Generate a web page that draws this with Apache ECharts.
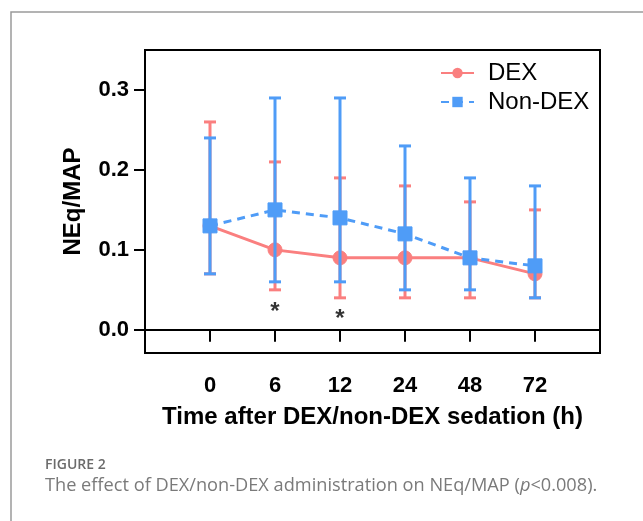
<!DOCTYPE html>
<html>
<head>
<meta charset="utf-8">
<script src="https://cdn.jsdelivr.net/npm/echarts@6/dist/echarts.min.js"></script>
<style>
  html, body { margin: 0; padding: 0; background: #fff; }
  #chart { width: 643px; height: 521px; }
</style>
</head>
<body>
<div id="chart"></div>
<script>
// time points (h)
var timeLabels = ["0", "6", "12", "24", "48", "72"];

// DEX group: median, lower, upper
var dexMid = [0.13, 0.10, 0.09, 0.09, 0.09, 0.07];
var dexLow = [0.07, 0.05, 0.04, 0.04, 0.04, 0.04];
var dexHigh = [0.26, 0.21, 0.19, 0.18, 0.16, 0.15];

// Non-DEX group
var nonMid = [0.13, 0.15, 0.14, 0.12, 0.09, 0.08];
var nonLow = [0.07, 0.06, 0.06, 0.05, 0.05, 0.04];
var nonHigh = [0.24, 0.29, 0.29, 0.23, 0.19, 0.18];

// significance marks: [time index, y]
var starPoints = [[1, 0.029], [2, 0.02]];

var yTicks = [0, 0.1, 0.2, 0.3];

var RED = "#fa7f7f";
var BLUE = "#4f9cf7";

// category axis padded with an empty slot each side
var cats = [""].concat(timeLabels).concat([""]);

function pts(arr) {
  return arr.map(function (v, i) { return [i + 1, v]; });
}
function bars(low, high) {
  return low.map(function (v, i) { return [i + 1, v, high[i]]; });
}

function errorBar(color) {
  return function (params, api) {
    var x = api.value(0);
    var lo = api.coord([x, api.value(1)]);
    var hi = api.coord([x, api.value(2)]);
    var w = 6;
    var st = { stroke: color, lineWidth: 3 };
    return {
      type: "group",
      children: [
        { type: "line", shape: { x1: lo[0], y1: lo[1], x2: hi[0], y2: hi[1] }, style: st },
        { type: "line", shape: { x1: lo[0] - w, y1: lo[1], x2: lo[0] + w, y2: lo[1] }, style: st },
        { type: "line", shape: { x1: hi[0] - w, y1: hi[1], x2: hi[0] + w, y2: hi[1] }, style: st }
      ]
    };
  };
}

var myChart = echarts.init(document.getElementById("chart"));
var option = {
  animation: false,
  backgroundColor: "#fff",
  grid: {
    left: 145, top: 50, right: 43, bottom: 168,
    show: true, borderColor: "#000", borderWidth: 2
  },
  legend: {
    orient: "vertical",
    left: 435,
    top: 56,
    itemWidth: 33,
    itemHeight: 13,
    itemGap: 5,
    textStyle: {
      fontFamily: "Liberation Sans, Arial",
      fontSize: 24,
      color: "#000",
      lineHeight: 24,
      padding: [0, 0, 0, 9]
    },
    data: ["DEX", "Non-DEX"]
  },
  xAxis: {
    type: "category",
    data: cats,
    boundaryGap: false,
    name: "Time after DEX/non-DEX sedation (h)",
    nameLocation: "middle",
    nameGap: 52,
    nameTextStyle: { fontFamily: "Liberation Sans, Arial", fontSize: 24, fontWeight: "bold", color: "#000" },
    axisLine: { lineStyle: { color: "#000", width: 2 } },
    axisTick: {
      length: 12,
      lineStyle: { color: "#000", width: 2 },
      interval: function (i) { return i > 0 && i < cats.length - 1; }
    },
    axisLabel: {
      interval: 0,
      margin: 22,
      fontFamily: "Liberation Sans, Arial",
      fontSize: 22,
      fontWeight: "bold",
      color: "#000"
    },
    splitLine: { show: false }
  },
  yAxis: {
    type: "value",
    min: -0.029,
    max: 0.35,
    name: "NEq/MAP",
    nameLocation: "middle",
    nameGap: 60,
    nameRotate: 90,
    nameMoveOverlap: false,
    nameTextStyle: { fontFamily: "Liberation Sans, Arial", fontSize: 24, fontWeight: "bold", color: "#000" },
    axisLine: { show: true, lineStyle: { color: "#000", width: 2 } },
    axisTick: {
      show: true,
      length: 11,
      customValues: yTicks,
      lineStyle: { color: "#000", width: 2 }
    },
    axisLabel: {
      customValues: yTicks,
      margin: 16,
      fontFamily: "Liberation Sans, Arial",
      fontSize: 22,
      fontWeight: "bold",
      color: "#000",
      formatter: function (v) { return v.toFixed(1); }
    },
    splitLine: { show: false }
  },
  series: [
    {
      name: "dexErr",
      type: "custom",
      renderItem: errorBar(RED),
      data: bars(dexLow, dexHigh),
      z: 1,
      silent: true
    },
    {
      name: "DEX",
      type: "line",
      data: pts(dexMid),
      symbol: "circle",
      symbolSize: 14,
      color: RED,
      lineStyle: { color: RED, width: 3 },
      itemStyle: { color: RED, borderColor: RED },
      z: 2
    },
    {
      name: "nonErr",
      type: "custom",
      renderItem: errorBar(BLUE),
      data: bars(nonLow, nonHigh),
      z: 3,
      silent: true
    },
    {
      name: "Non-DEX",
      type: "line",
      data: pts(nonMid),
      symbol: "rect",
      symbolSize: 14,
      color: BLUE,
      lineStyle: { color: BLUE, width: 3, type: [8, 6] },
      itemStyle: { color: BLUE, borderColor: BLUE },
      z: 4
    },
    {
      name: "stars",
      type: "scatter",
      data: starPoints.map(function (p) { return [p[0] + 1, p[1]]; }),
      symbolSize: 1,
      itemStyle: { color: "transparent" },
      label: {
        show: true,
        position: "inside",
        formatter: "*",
        offset: [0, 6],
        fontFamily: "Liberation Sans, Arial",
        fontSize: 24,
        fontWeight: "bold",
        color: "#000"
      },
      silent: true,
      z: 5
    }
  ],
  graphic: [
    {
      type: "polyline",
      shape: { points: [[11, 521], [11, 12], [643, 12]] },
      style: { stroke: "#9a9a9a", lineWidth: 1.5, fill: null },
      silent: true
    },
    {
      type: "text",
      left: 45,
      top: 458,
      style: {
        text: "FIGURE 2",
        font: "600 14px 'Open Sans'",
        fill: "#6b6b6b"
      }
    },
    {
      type: "text",
      left: 45,
      top: 477,
      style: {
        text: "The effect of DEX/non-DEX administration on NEq/MAP ({i|p}<0.008).",
        font: "18.2px 'Open Sans'",
        fill: "#7a7a7a",
        rich: {
          i: { fontStyle: "italic", fontFamily: "Open Sans", fontSize: 18.2, fill: "#7a7a7a" }
        }
      }
    }
  ]
};
myChart.setOption(option);
window.addEventListener("resize", function () {
  myChart.resize();
});
</script>
</body>
</html>
